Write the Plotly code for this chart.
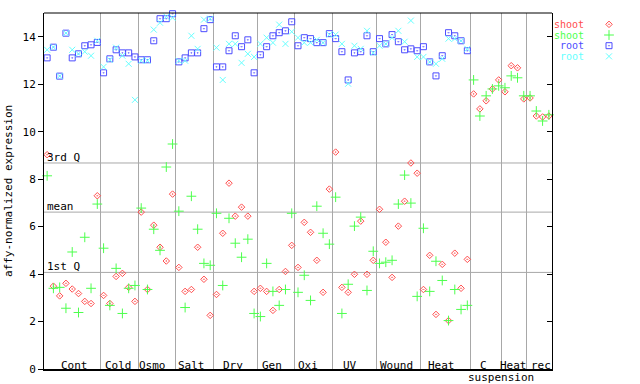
import plotly.graph_objects as go

# ---------------- data ----------------
groups = ["Cont", "Cold", "Osmo", "Salt", "Dry", "Gen", "Oxi", "UV", "Wound",
          "Heat", "C suspension", "Heat", "rec"]
group_sizes = [9, 6, 6, 6, 7, 6, 6, 7, 7, 8, 5, 4, 4]

shoot_red = [9.03, 3.49, 3.08, 3.61, 3.37, 3.18, 2.85, 2.76, 7.30,
             3.10, 2.76, 3.90, 4.03, 3.44, 2.85,
             6.61, 3.35, 6.06, 5.13, 4.55, 7.37,
             4.28, 3.27, 3.35, 5.13, 3.78, 2.26,
             3.14, 5.72, 7.83, 6.44, 6.82, 6.44, 3.27,
             3.40, 3.27, 2.47, 3.35, 4.11, 5.21,
             4.28, 6.18, 5.76, 4.58, 3.23, 7.58,
             9.14, 3.44, 3.23, 3.99, 6.23, 3.99, 4.58,
             6.73, 5.34, 3.86, 6.02, 7.07, 8.68, 8.25,
             3.35, 4.79, 2.30, 4.41, 2.04, 4.88, 3.40, 4.62,
             11.59, 10.96, 11.30, 11.80, 12.18,
             11.68, 12.78, 12.69, 11.38,
             11.42, 10.66, 10.62, 10.66]

shoot_green = [8.14, 3.40, 3.44, 2.56, 4.93, 2.38, 5.55, 3.40, 6.95,
               5.09, 2.68, 4.24, 2.34, 3.40, 3.52,
               6.78, 3.35, 5.89, 5.00, 8.51, 9.48,
               6.65, 2.59, 7.28, 5.89, 4.45, 4.37,
               6.56, 3.52, 6.35, 5.30, 4.71, 5.47, 2.34,
               2.21, 4.45, 3.27, 2.68, 3.35, 6.56,
               3.23, 3.95, 2.89, 6.86, 5.72, 5.26,
               7.24, 2.34, 3.57, 6.02, 6.40, 3.31, 4.96,
               4.45, 4.50, 4.58, 6.95, 8.17, 6.99, 3.06,
               5.93, 3.27, 4.54, 3.73, 2.04, 3.35, 2.51, 2.68,
               12.18, 10.66, 11.51, 11.80, 11.93,
               11.85, 12.35, 12.27, 11.51,
               11.51, 10.87, 10.45, 10.71]

root_blue = [13.11, 13.56, 12.34, 14.15, 13.11, 13.28, 13.62, 13.66, 13.76,
             12.48, 13.07, 13.45, 13.32, 13.32, 13.15,
             13.03, 13.03, 13.83, 14.76, 14.76, 14.97,
             12.94, 13.11, 13.32, 13.32, 14.34, 14.72,
             12.73, 12.73, 13.41, 14.04, 13.58, 13.87, 12.48,
             13.24, 13.58, 14.04, 14.17, 14.25, 14.63,
             13.62, 13.96, 13.92, 13.75, 13.75, 14.13,
             13.92, 13.37, 12.18, 13.32, 13.37, 14.04, 13.37,
             13.92, 13.70, 14.09, 13.79, 13.45, 13.49, 13.41,
             13.58, 12.94, 12.35, 13.20, 14.17, 14.04, 13.83, 13.41]

root_cyan = [13.45, 13.56, 12.34, 14.15, 13.45, 13.28, 13.37, 13.20, 13.83,
             12.73, 13.03, 13.54, 13.20, 12.86, 11.34,
             12.99, 12.99, 14.30, 14.59, 14.85, 14.80,
             12.99, 12.99, 14.04, 13.49, 14.72, 14.76,
             13.54, 12.18, 13.70, 13.70, 12.90, 13.28, 13.15,
             13.70, 13.96, 13.75, 14.51, 13.70, 14.21,
             13.96, 13.75, 13.75, 13.87, 13.75, 14.09,
             14.09, 13.70, 12.02, 13.62, 13.49, 14.25, 13.32,
             13.62, 13.70, 13.96, 14.25, 13.79, 14.68, 13.15,
             13.15, 12.94, 12.86, 13.07, 13.92, 13.92, 13.83, 13.49]

stat_names = ["3rd Q", "mean", "1st Q"]
stat_values = [8.68, 6.61, 4.07]

y_ticks = [0, 2, 4, 6, 8, 10, 12, 14]

series_names = ["shoot", "shoot", "root", "root"]

# ---------------- styling ----------------
FONT = "DejaVu Sans Mono"
RED, GREEN, BLUE, CYAN = "#ff4d4d", "#4dff4d", "#4d4dff", "#66ffff"
GRID = "#a8a8a8"
series_values = [shoot_red, shoot_green, root_blue, root_cyan]
series_colors = [RED, GREEN, BLUE, CYAN]
series_symbols = ["diamond-open-dot", "cross-thin-open", "square-open-dot", "x-thin-open"]
series_sizes = [5, 7, 6, 6]

W, H = 640, 384
PLOT_L, PLOT_R, PLOT_T, PLOT_B = 44, 552, 13, 369
L = PLOT_L
T = PLOT_T
B = H - PLOT_B
R = 0
paper_w = W - L - R
plot_h = H - T - B
xdom = (PLOT_R - PLOT_L) / paper_w

def px_x(px):
    return (px - PLOT_L) / paper_w

def px_y(py):
    return (PLOT_B - py) / plot_h

n_samples = sum(group_sizes)
boundaries = []
acc = 0
for s in group_sizes[:-1]:
    acc += s
    boundaries.append(acc)

fig = go.Figure()
for vals, col, sym, sz, name in zip(series_values, series_colors, series_symbols,
                                    series_sizes, series_names):
    xs = [i + 0.5 for i in range(len(vals))]
    fig.add_trace(go.Scatter(
        x=xs, y=vals, mode="markers", name=name, showlegend=False,
        marker=dict(symbol=sym, size=sz, color=col, line=dict(color=col, width=1)),
        cliponaxis=False,
    ))

# legend keys (drawn on their own small axis)
for k, (col, sym, sz) in enumerate(zip(series_colors, series_symbols, series_sizes)):
    fig.add_trace(go.Scatter(
        x=[0.5], y=[k], xaxis="x3", yaxis="y3", mode="markers", showlegend=False,
        marker=dict(symbol=sym, size=sz, color=col, line=dict(color=col, width=1)),
        hoverinfo="skip",
    ))

# invisible trace so the mirrored right axis is drawn
fig.add_trace(go.Scatter(x=[0], y=[0], yaxis="y2", mode="markers",
                         marker=dict(opacity=0), showlegend=False, hoverinfo="skip"))

shapes = []
for v in stat_values:
    shapes.append(dict(type="line", xref="x", yref="y", x0=0, x1=n_samples, y0=v, y1=v,
                       line=dict(color=GRID, width=1), layer="below"))
shapes.append(dict(type="line", xref="x", yref="paper", x0=0, x1=n_samples, y0=1, y1=1,
                   line=dict(color="black", width=1)))

annotations = []
for name, v in zip(stat_names, stat_values):
    annotations.append(dict(x=0.002, xref="paper", y=v, yref="y", text=name,
                            showarrow=False, xanchor="left", yanchor="bottom",
                            yshift=-3, font=dict(family=FONT, size=11, color="black")))

label_text = ["Cont", "Cold", "Osmo", "Salt", "Dry", "Gen", "Oxi", "UV", "Wound",
              "Heat", "C", "Heat", "rec", "suspension"]
label_px = [74, 118, 152, 191, 233, 272, 308, 350, 397, 441, 483, 513.5, 540.5, 501]
label_py = [365] * 13 + [377]
for t, xp, yp in zip(label_text, label_px, label_py):
    annotations.append(dict(x=px_x(xp), xref="paper", y=px_y(yp), yref="paper", text=t,
                            showarrow=False, xanchor="center", yanchor="middle",
                            font=dict(family=FONT, size=11, color="black")))

annotations.append(dict(x=px_x(8), xref="paper", y=px_y(191), yref="paper",
                        text="affy-normalized expression", textangle=-90, showarrow=False,
                        xanchor="center", yanchor="middle",
                        font=dict(family=FONT, size=11, color="black")))

for k, (name, col) in enumerate(zip(series_names, series_colors)):
    annotations.append(dict(x=px_x(586), xref="paper", y=k, yref="y3", text=name,
                            showarrow=False, xanchor="right", yanchor="middle",
                            font=dict(family=FONT, size=10, color=col)))

leg_top, row_h = 19, 10.67
fig.update_layout(
    width=W, height=H,
    margin=dict(l=L, r=R, t=T, b=B, pad=0),
    paper_bgcolor="white", plot_bgcolor="white",
    font=dict(family=FONT, size=11, color="black"),
    xaxis=dict(domain=[0, xdom], range=[0, n_samples], tickvals=boundaries,
               showticklabels=False, ticks="", showgrid=True, gridcolor=GRID, gridwidth=1,
               zeroline=False, showline=True, linecolor="black", linewidth=2,
               automargin=False),
    yaxis=dict(range=[0, 15], tickvals=y_ticks, ticks="outside", ticklen=5, tickcolor="black",
               showgrid=False, zeroline=False, showline=True, linecolor="black", linewidth=1,
               tickfont=dict(family=FONT, size=11, color="black"), automargin=False),
    yaxis2=dict(range=[0, 15], tickvals=y_ticks, ticks="inside", ticklen=5, tickcolor="black",
                overlaying="y", side="right", anchor="x", showticklabels=False,
                showgrid=False, zeroline=False, showline=True, linecolor="black", linewidth=1,
                automargin=False),
    xaxis3=dict(domain=[px_x(600), px_x(618)], range=[0, 1], visible=False, anchor="y3"),
    yaxis3=dict(domain=[px_y(leg_top + 4 * row_h), px_y(leg_top)], range=[3.5, -0.5],
                visible=False, anchor="x3"),
    shapes=shapes,
    annotations=annotations,
    showlegend=False,
)

# remove the browser's default 8px page margin so the figure sits at the page origin
fig.write_html("out.html",
               config={"displayModeBar": False, "staticPlot": True},
               post_script="document.body.style.margin='0px';document.body.style.overflow='hidden';")
